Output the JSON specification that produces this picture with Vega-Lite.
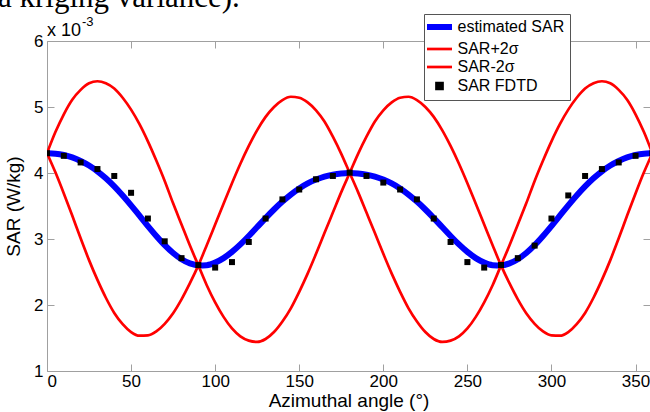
{
  "$schema": "https://vega.github.io/schema/vega-lite/v6.json",
  "width": 603,
  "height": 330,
  "autosize": "none",
  "padding": {"left": 47, "top": 41, "right": 0, "bottom": 41},
  "background": "white",
  "config": {
    "view": {"stroke": null},
    "font": "Liberation Sans",
    "axis": {
      "grid": false,
      "domainColor": "#a0a0a0",
      "tickColor": "#a0a0a0",
      "tickSize": -7,
      "tickWidth": 1,
      "labelFont": "Liberation Sans",
      "labelFontSize": 17,
      "labelColor": "black",
      "titleFont": "Liberation Sans",
      "titleFontSize": 19,
      "titleFontWeight": "normal",
      "titleColor": "black"
    }
  },
  "datasets": {
    "est": [
      {"angle": 0, "sar": 4.300, "series": "estimated SAR"},
      {"angle": 5, "sar": 4.293, "series": "estimated SAR"},
      {"angle": 10, "sar": 4.272, "series": "estimated SAR"},
      {"angle": 15, "sar": 4.236, "series": "estimated SAR"},
      {"angle": 20, "sar": 4.183, "series": "estimated SAR"},
      {"angle": 25, "sar": 4.114, "series": "estimated SAR"},
      {"angle": 30, "sar": 4.026, "series": "estimated SAR"},
      {"angle": 35, "sar": 3.920, "series": "estimated SAR"},
      {"angle": 40, "sar": 3.797, "series": "estimated SAR"},
      {"angle": 45, "sar": 3.659, "series": "estimated SAR"},
      {"angle": 50, "sar": 3.510, "series": "estimated SAR"},
      {"angle": 55, "sar": 3.353, "series": "estimated SAR"},
      {"angle": 60, "sar": 3.196, "series": "estimated SAR"},
      {"angle": 65, "sar": 3.045, "series": "estimated SAR"},
      {"angle": 70, "sar": 2.906, "series": "estimated SAR"},
      {"angle": 75, "sar": 2.787, "series": "estimated SAR"},
      {"angle": 80, "sar": 2.694, "series": "estimated SAR"},
      {"angle": 85, "sar": 2.630, "series": "estimated SAR"},
      {"angle": 90, "sar": 2.600, "series": "estimated SAR"},
      {"angle": 95, "sar": 2.604, "series": "estimated SAR"},
      {"angle": 100, "sar": 2.642, "series": "estimated SAR"},
      {"angle": 105, "sar": 2.710, "series": "estimated SAR"},
      {"angle": 110, "sar": 2.804, "series": "estimated SAR"},
      {"angle": 115, "sar": 2.918, "series": "estimated SAR"},
      {"angle": 120, "sar": 3.046, "series": "estimated SAR"},
      {"angle": 125, "sar": 3.181, "series": "estimated SAR"},
      {"angle": 130, "sar": 3.317, "series": "estimated SAR"},
      {"angle": 135, "sar": 3.447, "series": "estimated SAR"},
      {"angle": 140, "sar": 3.567, "series": "estimated SAR"},
      {"angle": 145, "sar": 3.674, "series": "estimated SAR"},
      {"angle": 150, "sar": 3.766, "series": "estimated SAR"},
      {"angle": 155, "sar": 3.842, "series": "estimated SAR"},
      {"angle": 160, "sar": 3.901, "series": "estimated SAR"},
      {"angle": 165, "sar": 3.946, "series": "estimated SAR"},
      {"angle": 170, "sar": 3.976, "series": "estimated SAR"},
      {"angle": 175, "sar": 3.994, "series": "estimated SAR"},
      {"angle": 180, "sar": 4.000, "series": "estimated SAR"},
      {"angle": 185, "sar": 3.994, "series": "estimated SAR"},
      {"angle": 190, "sar": 3.976, "series": "estimated SAR"},
      {"angle": 195, "sar": 3.946, "series": "estimated SAR"},
      {"angle": 200, "sar": 3.901, "series": "estimated SAR"},
      {"angle": 205, "sar": 3.842, "series": "estimated SAR"},
      {"angle": 210, "sar": 3.766, "series": "estimated SAR"},
      {"angle": 215, "sar": 3.674, "series": "estimated SAR"},
      {"angle": 220, "sar": 3.567, "series": "estimated SAR"},
      {"angle": 225, "sar": 3.447, "series": "estimated SAR"},
      {"angle": 230, "sar": 3.317, "series": "estimated SAR"},
      {"angle": 235, "sar": 3.181, "series": "estimated SAR"},
      {"angle": 240, "sar": 3.046, "series": "estimated SAR"},
      {"angle": 245, "sar": 2.918, "series": "estimated SAR"},
      {"angle": 250, "sar": 2.804, "series": "estimated SAR"},
      {"angle": 255, "sar": 2.710, "series": "estimated SAR"},
      {"angle": 260, "sar": 2.642, "series": "estimated SAR"},
      {"angle": 265, "sar": 2.604, "series": "estimated SAR"},
      {"angle": 270, "sar": 2.600, "series": "estimated SAR"},
      {"angle": 275, "sar": 2.630, "series": "estimated SAR"},
      {"angle": 280, "sar": 2.694, "series": "estimated SAR"},
      {"angle": 285, "sar": 2.787, "series": "estimated SAR"},
      {"angle": 290, "sar": 2.906, "series": "estimated SAR"},
      {"angle": 295, "sar": 3.045, "series": "estimated SAR"},
      {"angle": 300, "sar": 3.196, "series": "estimated SAR"},
      {"angle": 305, "sar": 3.353, "series": "estimated SAR"},
      {"angle": 310, "sar": 3.510, "series": "estimated SAR"},
      {"angle": 315, "sar": 3.659, "series": "estimated SAR"},
      {"angle": 320, "sar": 3.797, "series": "estimated SAR"},
      {"angle": 325, "sar": 3.920, "series": "estimated SAR"},
      {"angle": 330, "sar": 4.026, "series": "estimated SAR"},
      {"angle": 335, "sar": 4.114, "series": "estimated SAR"},
      {"angle": 340, "sar": 4.183, "series": "estimated SAR"},
      {"angle": 345, "sar": 4.236, "series": "estimated SAR"},
      {"angle": 350, "sar": 4.272, "series": "estimated SAR"},
      {"angle": 355, "sar": 4.293, "series": "estimated SAR"},
      {"angle": 360, "sar": 4.300, "series": "estimated SAR"}
    ],
    "bounds": [
      {"angle": 0, "sar": 4.30, "series": "SAR+2σ"},
      {"angle": 5, "sar": 4.62, "series": "SAR+2σ"},
      {"angle": 10, "sar": 4.89, "series": "SAR+2σ"},
      {"angle": 15, "sar": 5.11, "series": "SAR+2σ"},
      {"angle": 20, "sar": 5.26, "series": "SAR+2σ"},
      {"angle": 25, "sar": 5.36, "series": "SAR+2σ"},
      {"angle": 30, "sar": 5.39, "series": "SAR+2σ"},
      {"angle": 35, "sar": 5.36, "series": "SAR+2σ"},
      {"angle": 40, "sar": 5.28, "series": "SAR+2σ"},
      {"angle": 45, "sar": 5.14, "series": "SAR+2σ"},
      {"angle": 50, "sar": 4.96, "series": "SAR+2σ"},
      {"angle": 55, "sar": 4.74, "series": "SAR+2σ"},
      {"angle": 60, "sar": 4.48, "series": "SAR+2σ"},
      {"angle": 65, "sar": 4.19, "series": "SAR+2σ"},
      {"angle": 70, "sar": 3.88, "series": "SAR+2σ"},
      {"angle": 75, "sar": 3.54, "series": "SAR+2σ"},
      {"angle": 80, "sar": 3.22, "series": "SAR+2σ"},
      {"angle": 85, "sar": 2.90, "series": "SAR+2σ"},
      {"angle": 90, "sar": 2.60, "series": "SAR+2σ"},
      {"angle": 95, "sar": 2.30, "series": "SAR+2σ"},
      {"angle": 100, "sar": 2.04, "series": "SAR+2σ"},
      {"angle": 105, "sar": 1.82, "series": "SAR+2σ"},
      {"angle": 110, "sar": 1.645, "series": "SAR+2σ"},
      {"angle": 115, "sar": 1.525, "series": "SAR+2σ"},
      {"angle": 120, "sar": 1.46, "series": "SAR+2σ"},
      {"angle": 125, "sar": 1.44, "series": "SAR+2σ"},
      {"angle": 130, "sar": 1.485, "series": "SAR+2σ"},
      {"angle": 135, "sar": 1.59, "series": "SAR+2σ"},
      {"angle": 140, "sar": 1.75, "series": "SAR+2σ"},
      {"angle": 145, "sar": 1.95, "series": "SAR+2σ"},
      {"angle": 150, "sar": 2.20, "series": "SAR+2σ"},
      {"angle": 155, "sar": 2.475, "series": "SAR+2σ"},
      {"angle": 160, "sar": 2.775, "series": "SAR+2σ"},
      {"angle": 165, "sar": 3.09, "series": "SAR+2σ"},
      {"angle": 170, "sar": 3.40, "series": "SAR+2σ"},
      {"angle": 175, "sar": 3.71, "series": "SAR+2σ"},
      {"angle": 180, "sar": 4.00, "series": "SAR+2σ"},
      {"angle": 185, "sar": 4.29, "series": "SAR+2σ"},
      {"angle": 190, "sar": 4.55, "series": "SAR+2σ"},
      {"angle": 195, "sar": 4.78, "series": "SAR+2σ"},
      {"angle": 200, "sar": 4.95, "series": "SAR+2σ"},
      {"angle": 205, "sar": 5.07, "series": "SAR+2σ"},
      {"angle": 210, "sar": 5.14, "series": "SAR+2σ"},
      {"angle": 215, "sar": 5.155, "series": "SAR+2σ"},
      {"angle": 220, "sar": 5.105, "series": "SAR+2σ"},
      {"angle": 225, "sar": 5.00, "series": "SAR+2σ"},
      {"angle": 230, "sar": 4.85, "series": "SAR+2σ"},
      {"angle": 235, "sar": 4.65, "series": "SAR+2σ"},
      {"angle": 240, "sar": 4.41, "series": "SAR+2σ"},
      {"angle": 245, "sar": 4.14, "series": "SAR+2σ"},
      {"angle": 250, "sar": 3.845, "series": "SAR+2σ"},
      {"angle": 255, "sar": 3.535, "series": "SAR+2σ"},
      {"angle": 260, "sar": 3.22, "series": "SAR+2σ"},
      {"angle": 265, "sar": 2.905, "series": "SAR+2σ"},
      {"angle": 270, "sar": 2.60, "series": "SAR+2σ"},
      {"angle": 275, "sar": 2.33, "series": "SAR+2σ"},
      {"angle": 280, "sar": 2.085, "series": "SAR+2σ"},
      {"angle": 285, "sar": 1.875, "series": "SAR+2σ"},
      {"angle": 290, "sar": 1.715, "series": "SAR+2σ"},
      {"angle": 295, "sar": 1.60, "series": "SAR+2σ"},
      {"angle": 300, "sar": 1.54, "series": "SAR+2σ"},
      {"angle": 305, "sar": 1.535, "series": "SAR+2σ"},
      {"angle": 310, "sar": 1.59, "series": "SAR+2σ"},
      {"angle": 315, "sar": 1.71, "series": "SAR+2σ"},
      {"angle": 320, "sar": 1.88, "series": "SAR+2σ"},
      {"angle": 325, "sar": 2.11, "series": "SAR+2σ"},
      {"angle": 330, "sar": 2.38, "series": "SAR+2σ"},
      {"angle": 335, "sar": 2.68, "series": "SAR+2σ"},
      {"angle": 340, "sar": 3.01, "series": "SAR+2σ"},
      {"angle": 345, "sar": 3.355, "series": "SAR+2σ"},
      {"angle": 350, "sar": 3.69, "series": "SAR+2σ"},
      {"angle": 355, "sar": 4.01, "series": "SAR+2σ"},
      {"angle": 360, "sar": 4.30, "series": "SAR+2σ"},
      {"angle": 0, "sar": 4.30, "series": "SAR-2σ"},
      {"angle": 5, "sar": 4.01, "series": "SAR-2σ"},
      {"angle": 10, "sar": 3.69, "series": "SAR-2σ"},
      {"angle": 15, "sar": 3.355, "series": "SAR-2σ"},
      {"angle": 20, "sar": 3.01, "series": "SAR-2σ"},
      {"angle": 25, "sar": 2.68, "series": "SAR-2σ"},
      {"angle": 30, "sar": 2.38, "series": "SAR-2σ"},
      {"angle": 35, "sar": 2.11, "series": "SAR-2σ"},
      {"angle": 40, "sar": 1.88, "series": "SAR-2σ"},
      {"angle": 45, "sar": 1.71, "series": "SAR-2σ"},
      {"angle": 50, "sar": 1.59, "series": "SAR-2σ"},
      {"angle": 55, "sar": 1.535, "series": "SAR-2σ"},
      {"angle": 60, "sar": 1.54, "series": "SAR-2σ"},
      {"angle": 65, "sar": 1.60, "series": "SAR-2σ"},
      {"angle": 70, "sar": 1.715, "series": "SAR-2σ"},
      {"angle": 75, "sar": 1.875, "series": "SAR-2σ"},
      {"angle": 80, "sar": 2.085, "series": "SAR-2σ"},
      {"angle": 85, "sar": 2.33, "series": "SAR-2σ"},
      {"angle": 90, "sar": 2.60, "series": "SAR-2σ"},
      {"angle": 95, "sar": 2.905, "series": "SAR-2σ"},
      {"angle": 100, "sar": 3.22, "series": "SAR-2σ"},
      {"angle": 105, "sar": 3.535, "series": "SAR-2σ"},
      {"angle": 110, "sar": 3.845, "series": "SAR-2σ"},
      {"angle": 115, "sar": 4.14, "series": "SAR-2σ"},
      {"angle": 120, "sar": 4.41, "series": "SAR-2σ"},
      {"angle": 125, "sar": 4.65, "series": "SAR-2σ"},
      {"angle": 130, "sar": 4.85, "series": "SAR-2σ"},
      {"angle": 135, "sar": 5.00, "series": "SAR-2σ"},
      {"angle": 140, "sar": 5.105, "series": "SAR-2σ"},
      {"angle": 145, "sar": 5.155, "series": "SAR-2σ"},
      {"angle": 150, "sar": 5.14, "series": "SAR-2σ"},
      {"angle": 155, "sar": 5.07, "series": "SAR-2σ"},
      {"angle": 160, "sar": 4.95, "series": "SAR-2σ"},
      {"angle": 165, "sar": 4.78, "series": "SAR-2σ"},
      {"angle": 170, "sar": 4.55, "series": "SAR-2σ"},
      {"angle": 175, "sar": 4.29, "series": "SAR-2σ"},
      {"angle": 180, "sar": 4.00, "series": "SAR-2σ"},
      {"angle": 185, "sar": 3.71, "series": "SAR-2σ"},
      {"angle": 190, "sar": 3.40, "series": "SAR-2σ"},
      {"angle": 195, "sar": 3.09, "series": "SAR-2σ"},
      {"angle": 200, "sar": 2.775, "series": "SAR-2σ"},
      {"angle": 205, "sar": 2.475, "series": "SAR-2σ"},
      {"angle": 210, "sar": 2.20, "series": "SAR-2σ"},
      {"angle": 215, "sar": 1.95, "series": "SAR-2σ"},
      {"angle": 220, "sar": 1.75, "series": "SAR-2σ"},
      {"angle": 225, "sar": 1.59, "series": "SAR-2σ"},
      {"angle": 230, "sar": 1.485, "series": "SAR-2σ"},
      {"angle": 235, "sar": 1.44, "series": "SAR-2σ"},
      {"angle": 240, "sar": 1.46, "series": "SAR-2σ"},
      {"angle": 245, "sar": 1.525, "series": "SAR-2σ"},
      {"angle": 250, "sar": 1.645, "series": "SAR-2σ"},
      {"angle": 255, "sar": 1.82, "series": "SAR-2σ"},
      {"angle": 260, "sar": 2.04, "series": "SAR-2σ"},
      {"angle": 265, "sar": 2.30, "series": "SAR-2σ"},
      {"angle": 270, "sar": 2.60, "series": "SAR-2σ"},
      {"angle": 275, "sar": 2.90, "series": "SAR-2σ"},
      {"angle": 280, "sar": 3.22, "series": "SAR-2σ"},
      {"angle": 285, "sar": 3.54, "series": "SAR-2σ"},
      {"angle": 290, "sar": 3.88, "series": "SAR-2σ"},
      {"angle": 295, "sar": 4.19, "series": "SAR-2σ"},
      {"angle": 300, "sar": 4.48, "series": "SAR-2σ"},
      {"angle": 305, "sar": 4.74, "series": "SAR-2σ"},
      {"angle": 310, "sar": 4.96, "series": "SAR-2σ"},
      {"angle": 315, "sar": 5.14, "series": "SAR-2σ"},
      {"angle": 320, "sar": 5.28, "series": "SAR-2σ"},
      {"angle": 325, "sar": 5.36, "series": "SAR-2σ"},
      {"angle": 330, "sar": 5.39, "series": "SAR-2σ"},
      {"angle": 335, "sar": 5.36, "series": "SAR-2σ"},
      {"angle": 340, "sar": 5.26, "series": "SAR-2σ"},
      {"angle": 345, "sar": 5.11, "series": "SAR-2σ"},
      {"angle": 350, "sar": 4.89, "series": "SAR-2σ"},
      {"angle": 355, "sar": 4.62, "series": "SAR-2σ"},
      {"angle": 360, "sar": 4.30, "series": "SAR-2σ"}
    ],
    "fdtd": [
      {"angle": 0, "sar": 4.30, "series": "SAR FDTD"},
      {"angle": 10, "sar": 4.26, "series": "SAR FDTD"},
      {"angle": 20, "sar": 4.16, "series": "SAR FDTD"},
      {"angle": 30, "sar": 4.06, "series": "SAR FDTD"},
      {"angle": 40, "sar": 3.955, "series": "SAR FDTD"},
      {"angle": 50, "sar": 3.70, "series": "SAR FDTD"},
      {"angle": 60, "sar": 3.31, "series": "SAR FDTD"},
      {"angle": 70, "sar": 2.965, "series": "SAR FDTD"},
      {"angle": 80, "sar": 2.71, "series": "SAR FDTD"},
      {"angle": 90, "sar": 2.605, "series": "SAR FDTD"},
      {"angle": 100, "sar": 2.567, "series": "SAR FDTD"},
      {"angle": 110, "sar": 2.65, "series": "SAR FDTD"},
      {"angle": 120, "sar": 2.955, "series": "SAR FDTD"},
      {"angle": 130, "sar": 3.31, "series": "SAR FDTD"},
      {"angle": 140, "sar": 3.60, "series": "SAR FDTD"},
      {"angle": 150, "sar": 3.75, "series": "SAR FDTD"},
      {"angle": 160, "sar": 3.905, "series": "SAR FDTD"},
      {"angle": 170, "sar": 3.955, "series": "SAR FDTD"},
      {"angle": 180, "sar": 4.005, "series": "SAR FDTD"},
      {"angle": 190, "sar": 3.955, "series": "SAR FDTD"},
      {"angle": 200, "sar": 3.855, "series": "SAR FDTD"},
      {"angle": 210, "sar": 3.75, "series": "SAR FDTD"},
      {"angle": 220, "sar": 3.60, "series": "SAR FDTD"},
      {"angle": 230, "sar": 3.31, "series": "SAR FDTD"},
      {"angle": 240, "sar": 2.955, "series": "SAR FDTD"},
      {"angle": 250, "sar": 2.65, "series": "SAR FDTD"},
      {"angle": 260, "sar": 2.567, "series": "SAR FDTD"},
      {"angle": 270, "sar": 2.606, "series": "SAR FDTD"},
      {"angle": 280, "sar": 2.71, "series": "SAR FDTD"},
      {"angle": 290, "sar": 2.90, "series": "SAR FDTD"},
      {"angle": 300, "sar": 3.31, "series": "SAR FDTD"},
      {"angle": 310, "sar": 3.66, "series": "SAR FDTD"},
      {"angle": 320, "sar": 3.955, "series": "SAR FDTD"},
      {"angle": 330, "sar": 4.06, "series": "SAR FDTD"},
      {"angle": 340, "sar": 4.16, "series": "SAR FDTD"},
      {"angle": 350, "sar": 4.26, "series": "SAR FDTD"},
      {"angle": 360, "sar": 4.30, "series": "SAR FDTD"}
    ],
    "notes": [
      {"angle": 0, "sar": 6}
    ]
  },
  "resolve": {"axis": {"x": "independent", "y": "independent"}},
  "layer": [
    {
      "data": {"name": "est"},
      "mark": {"type": "line", "clip": true, "interpolate": "monotone", "strokeWidth": 6},
      "encoding": {
        "x": {"field": "angle", "type": "quantitative",
          "scale": {"domain": [0, 358.6], "nice": false, "zero": false},
          "axis": {"orient": "bottom", "values": [0, 50, 100, 150, 200, 250, 300, 350], "title": "Azimuthal angle (°)", "labelPadding": 9, "titlePadding": 2}},
        "y": {"field": "sar", "type": "quantitative",
          "scale": {"domain": [1, 6], "nice": false, "zero": false},
          "axis": {"orient": "left", "values": [1, 2, 3, 4, 5, 6], "title": "SAR (W/kg)", "labelPadding": 11, "titlePadding": 10}},
        "color": {"field": "series", "type": "nominal",
          "scale": {"domain": ["estimated SAR", "SAR+2σ", "SAR-2σ", "SAR FDTD"], "range": ["#0000ff", "#ff0000", "#ff0000", "#000000"]},
          "legend": {
            "orient": "none", "legendX": 377, "legendY": -27, "title": null,
            "fillColor": "white", "strokeColor": "#555", "padding": 5,
            "labelFontSize": 16, "labelFont": "Liberation Sans", "labelColor": "black",
            "symbolSize": 625, "rowPadding": 2, "labelOffset": 10, "symbolOffset": 2.5, "labelLimit": 0,
            "encoding": {
              "symbols": {
                "fill": {"value": {"expr": "datum.value === 'SAR FDTD' ? '#000000' : 'transparent'"}},
                "stroke": {"value": {"expr": "datum.value === 'estimated SAR' ? '#0000ff' : (datum.value === 'SAR FDTD' ? 'transparent' : '#ff0000')"}},
                "strokeWidth": {"value": {"expr": "datum.value === 'estimated SAR' ? 6 : 2.7"}},
                "shape": {"value": {"expr": "datum.value === 'SAR FDTD' ? 'M-0.24,-0.24H0.24V0.24H-0.24Z' : 'stroke'"}},
                "opacity": {"value": 1}
              }
            }
          }}
      }
    },
    {
      "data": {"name": "bounds"},
      "mark": {"type": "line", "clip": true, "interpolate": "monotone", "strokeWidth": 2.7},
      "encoding": {
        "x": {"field": "angle", "type": "quantitative", "axis": null},
        "y": {"field": "sar", "type": "quantitative", "axis": null},
        "detail": {"field": "series", "type": "nominal"},
        "color": {"field": "series", "type": "nominal"}
      }
    },
    {
      "data": {"name": "fdtd"},
      "mark": {"type": "point", "shape": "square", "filled": true, "opacity": 1, "size": 36, "strokeWidth": 0, "clip": true},
      "encoding": {
        "x": {"field": "angle", "type": "quantitative",
          "axis": {"orient": "top", "values": [0, 50, 100, 150, 200, 250, 300, 350], "labels": false, "title": null}},
        "y": {"field": "sar", "type": "quantitative",
          "axis": {"orient": "right", "values": [1, 2, 3, 4, 5, 6], "labels": false, "title": null}},
        "color": {"field": "series", "type": "nominal"}
      }
    },
    {
      "data": {"name": "notes"},
      "mark": {"type": "text", "text": "x 10", "align": "left", "baseline": "alphabetic", "dx": 0, "dy": -5, "fontSize": 18, "font": "Liberation Sans", "color": "black"},
      "encoding": {
        "x": {"field": "angle", "type": "quantitative", "axis": null},
        "y": {"field": "sar", "type": "quantitative", "axis": null}
      }
    },
    {
      "data": {"name": "notes"},
      "mark": {"type": "text", "text": "-3", "align": "left", "baseline": "alphabetic", "dx": 35, "dy": -15, "fontSize": 13, "font": "Liberation Sans", "color": "black"},
      "encoding": {
        "x": {"field": "angle", "type": "quantitative", "axis": null},
        "y": {"field": "sar", "type": "quantitative", "axis": null}
      }
    },
    {
      "data": {"name": "notes"},
      "mark": {"type": "text", "text": "a kriging variance).", "align": "left", "baseline": "alphabetic", "dx": -49, "dy": -34, "fontSize": 31, "font": "Liberation Serif", "color": "black"},
      "encoding": {
        "x": {"field": "angle", "type": "quantitative", "axis": null},
        "y": {"field": "sar", "type": "quantitative", "axis": null}
      }
    }
  ]
}
